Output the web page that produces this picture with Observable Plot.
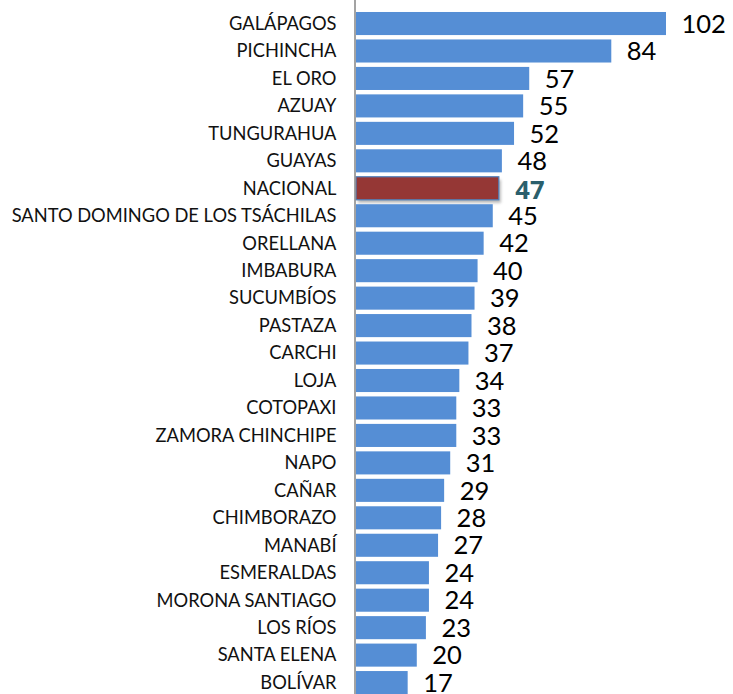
<!DOCTYPE html>
<html><head><meta charset="utf-8">
<script src="https://cdn.jsdelivr.net/npm/d3@7"></script>
<script src="https://cdn.jsdelivr.net/npm/@observablehq/plot@0.6"></script>
<style>body{margin:0;background:#fff}</style>
</head><body><div id="chart"></div>
<script>
const provinces = ["GALÁPAGOS","PICHINCHA","EL ORO","AZUAY","TUNGURAHUA","GUAYAS","NACIONAL","SANTO DOMINGO DE LOS TSÁCHILAS","ORELLANA","IMBABURA","SUCUMBÍOS","PASTAZA","CARCHI","LOJA","COTOPAXI","ZAMORA CHINCHIPE","NAPO","CAÑAR","CHIMBORAZO","MANABÍ","ESMERALDAS","MORONA SANTIAGO","LOS RÍOS","SANTA ELENA","BOLÍVAR"];
const values = [102,84,57,55,52,48,47,45,42,40,39,38,37,34,33,33,31,29,28,27,24,24,23,20,17];
const highlight = "NACIONAL";

const data = provinces.map((p,i)=>({province:p, value:values[i]}));
const others = data.filter(d=>d.province!==highlight);
const nat = data.filter(d=>d.province===highlight);

const chart = Plot.plot({
  width:733, height:694,
  marginLeft:356, marginRight:67, marginTop:0, marginBottom:0,
  style:{fontFamily:"Lato, sans-serif", background:"#fff"},
  x:{domain:[0,102], axis:null},
  y:{domain:provinces, range:[7.6,698.5], padding:0.16, round:false, label:null},
  marks:[
    Plot.axisY({tickSize:0, tickPadding:20, fontSize:18.3, fill:"#111", label:null}),
    Plot.barX(nat, {x:"value", y:"province", fill:"#888", dx:2, dy:3, opacity:0.6, className:"shadow"}),
    Plot.barX(others, {x:"value", y:"province", fill:"#558ED5"}),
    Plot.barX(nat, {x:"value", y:"province", fill:"#953735", stroke:"#4F81BD", strokeWidth:1.2}),
    Plot.ruleX([0], {stroke:"#8c8c8c", strokeWidth:1.6, dx:-1.5}),
    Plot.text(others, {x:"value", y:"province", text:d=>String(d.value), dx:15, dy:0.5, textAnchor:"start", fontSize:25.5, fill:"#000"}),
    Plot.text(nat, {x:"value", y:"province", text:d=>String(d.value), dx:16, dy:2.5, textAnchor:"start", fontSize:25.5, fontWeight:"bold", fontFamily:"'Open Sans', sans-serif", fill:"#2B5F6C"})
  ]
});
const svg = d3.select(chart);
const defs = svg.insert("defs",":first-child");
defs.append("filter").attr("id","blur").attr("x","-10%").attr("y","-50%").attr("width","120%").attr("height","200%")
  .append("feGaussianBlur").attr("stdDeviation",1.5);
svg.selectAll(".shadow rect").attr("filter","url(#blur)");
document.getElementById("chart").appendChild(chart);
</script>
</body></html>
